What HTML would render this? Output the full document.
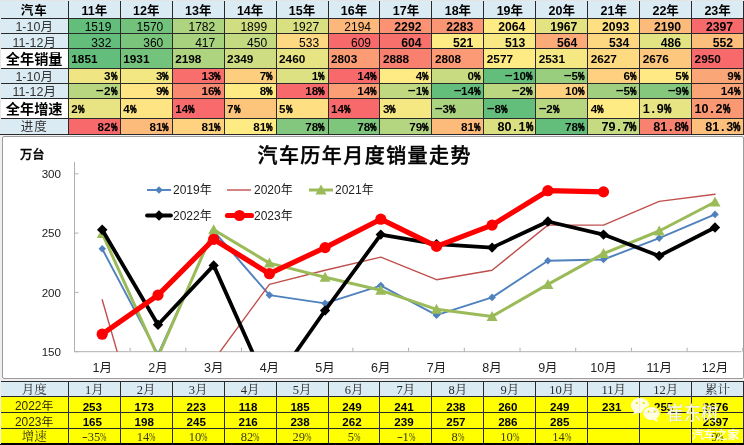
<!DOCTYPE html>
<html lang="zh"><head><meta charset="utf-8"><title>汽车历年月度销量走势</title><style>
*{margin:0;padding:0;box-sizing:border-box}
html,body{width:744px;height:445px;overflow:hidden;background:#efefef}
body{position:relative;font-family:"Liberation Sans","Noto Sans CJK SC",sans-serif;color:#000}
.c{position:absolute;white-space:nowrap;overflow:hidden}
.ln{position:absolute;background:#2a2a2a}
.p{display:inline-block;width:6.5px;transform:scaleX(.63);transform-origin:0 50%;-webkit-text-stroke:.7px #000}
.m{display:inline-block;width:7.6px;text-align:center;transform:scaleX(2.3);position:relative;top:-1.7px}
.sm{display:inline-block;width:6px;text-align:center;transform:scaleX(1.4)}
.d{display:inline-block;width:7px;text-align:center}
.P{display:inline-block;width:7px;transform:scaleX(.66);transform-origin:0 50%;-webkit-text-stroke:.7px #000}
</style></head><body>
<div class="c" style="left:0px;top:0px;width:68.3px;height:18px;line-height:23.0px;background:#dbebf3;font-weight:bold;font-size:12.5px;text-align:center;letter-spacing:1px">汽车</div>
<div class="c" style="left:0px;top:18px;width:68.3px;height:15.5px;line-height:18.5px;background:#dbebf3;font-size:12.5px;text-align:center;color:#333">1-10月</div>
<div class="c" style="left:0px;top:33.5px;width:68.3px;height:15.0px;line-height:18.0px;background:#dbebf3;font-size:12.5px;text-align:center;color:#333">11-12月</div>
<div class="c" style="left:0px;top:48.5px;width:68.3px;height:19.5px;line-height:21.5px;background:#dbebf3;font-weight:bold;font-size:14.2px;text-align:center;background:#fff">全年销量</div>
<div class="c" style="left:0px;top:68px;width:68.3px;height:15px;line-height:18.0px;background:#dbebf3;font-size:12.5px;text-align:center;color:#333">1-10月</div>
<div class="c" style="left:0px;top:83px;width:68.3px;height:15.5px;line-height:18.5px;background:#dbebf3;font-size:12.5px;text-align:center;color:#333">11-12月</div>
<div class="c" style="left:0px;top:98.5px;width:68.3px;height:19.5px;line-height:21.5px;background:#dbebf3;font-weight:bold;font-size:14.2px;text-align:center;background:#fff">全年增速</div>
<div class="c" style="left:0px;top:118px;width:68.3px;height:16.5px;line-height:19.5px;background:#dbebf3;font-size:12.5px;text-align:center;color:#333;letter-spacing:1px">进度</div>
<div class="c" style="left:68.3px;top:0px;width:52.04px;height:18px;line-height:23.0px;background:#dbebf3;font-weight:bold;font-size:12.5px;text-align:center">11年</div>
<div class="c" style="left:120.24px;top:0px;width:52.04px;height:18px;line-height:23.0px;background:#dbebf3;font-weight:bold;font-size:12.5px;text-align:center">12年</div>
<div class="c" style="left:172.18px;top:0px;width:52.04px;height:18px;line-height:23.0px;background:#dbebf3;font-weight:bold;font-size:12.5px;text-align:center">13年</div>
<div class="c" style="left:224.12px;top:0px;width:52.04px;height:18px;line-height:23.0px;background:#dbebf3;font-weight:bold;font-size:12.5px;text-align:center">14年</div>
<div class="c" style="left:276.06px;top:0px;width:52.04px;height:18px;line-height:23.0px;background:#dbebf3;font-weight:bold;font-size:12.5px;text-align:center">15年</div>
<div class="c" style="left:328.0px;top:0px;width:52.04px;height:18px;line-height:23.0px;background:#dbebf3;font-weight:bold;font-size:12.5px;text-align:center">16年</div>
<div class="c" style="left:379.94px;top:0px;width:52.04px;height:18px;line-height:23.0px;background:#dbebf3;font-weight:bold;font-size:12.5px;text-align:center">17年</div>
<div class="c" style="left:431.88px;top:0px;width:52.04px;height:18px;line-height:23.0px;background:#dbebf3;font-weight:bold;font-size:12.5px;text-align:center">18年</div>
<div class="c" style="left:483.82px;top:0px;width:52.04px;height:18px;line-height:23.0px;background:#dbebf3;font-weight:bold;font-size:12.5px;text-align:center">19年</div>
<div class="c" style="left:535.76px;top:0px;width:52.04px;height:18px;line-height:23.0px;background:#dbebf3;font-weight:bold;font-size:12.5px;text-align:center">20年</div>
<div class="c" style="left:587.7px;top:0px;width:52.04px;height:18px;line-height:23.0px;background:#dbebf3;font-weight:bold;font-size:12.5px;text-align:center">21年</div>
<div class="c" style="left:639.64px;top:0px;width:52.04px;height:18px;line-height:23.0px;background:#dbebf3;font-weight:bold;font-size:12.5px;text-align:center">22年</div>
<div class="c" style="left:691.58px;top:0px;width:52.04px;height:18px;line-height:23.0px;background:#dbebf3;font-weight:bold;font-size:12.5px;text-align:center">23年</div>
<div class="c" style="left:68.3px;top:18px;width:52.04px;height:15.5px;line-height:18.5px;background:#63be7b;font-size:12px;text-align:right;padding-right:9px;color:#000">1519</div>
<div class="c" style="left:120.24px;top:18px;width:52.04px;height:15.5px;line-height:18.5px;background:#72c27c;font-size:12px;text-align:right;padding-right:9px;color:#000">1570</div>
<div class="c" style="left:172.18px;top:18px;width:52.04px;height:15.5px;line-height:18.5px;background:#aed47f;font-size:12px;text-align:right;padding-right:9px;color:#000">1782</div>
<div class="c" style="left:224.12px;top:18px;width:52.04px;height:15.5px;line-height:18.5px;background:#d0dd81;font-size:12px;text-align:right;padding-right:9px;color:#000">1899</div>
<div class="c" style="left:276.06px;top:18px;width:52.04px;height:15.5px;line-height:18.5px;background:#d8e082;font-size:12px;text-align:right;padding-right:9px;color:#000">1927</div>
<div class="c" style="left:328.0px;top:18px;width:52.04px;height:15.5px;line-height:18.5px;background:#fcb87a;font-size:12px;text-align:right;padding-right:9px;color:#000">2194</div>
<div class="c" style="left:379.94px;top:18px;width:52.04px;height:15.5px;line-height:18.5px;background:#fa9273;font-weight:bold;font-size:12.2px;text-align:right;padding-right:10.5px">2292</div>
<div class="c" style="left:431.88px;top:18px;width:52.04px;height:15.5px;line-height:18.5px;background:#fa9674;font-weight:bold;font-size:12.2px;text-align:right;padding-right:10.5px">2283</div>
<div class="c" style="left:483.82px;top:18px;width:52.04px;height:15.5px;line-height:18.5px;background:#ffeb84;font-weight:bold;font-size:12.2px;text-align:right;padding-right:10.5px">2064</div>
<div class="c" style="left:535.76px;top:18px;width:52.04px;height:15.5px;line-height:18.5px;background:#e3e382;font-weight:bold;font-size:12.2px;text-align:right;padding-right:10.5px">1967</div>
<div class="c" style="left:587.7px;top:18px;width:52.04px;height:15.5px;line-height:18.5px;background:#fee082;font-weight:bold;font-size:12.2px;text-align:right;padding-right:10.5px">2093</div>
<div class="c" style="left:639.64px;top:18px;width:52.04px;height:15.5px;line-height:18.5px;background:#fcba7b;font-weight:bold;font-size:12.2px;text-align:right;padding-right:10.5px">2190</div>
<div class="c" style="left:691.58px;top:18px;width:52.04px;height:15.5px;line-height:18.5px;background:#f8696b;font-weight:bold;font-size:12.2px;text-align:right;padding-right:10.5px">2397</div>
<div class="c" style="left:68.3px;top:33.5px;width:52.04px;height:15.0px;line-height:18.0px;background:#63be7b;font-size:12px;text-align:right;padding-right:9px;color:#000">332</div>
<div class="c" style="left:120.24px;top:33.5px;width:52.04px;height:15.0px;line-height:18.0px;background:#7ac57c;font-size:12px;text-align:right;padding-right:9px;color:#000">360</div>
<div class="c" style="left:172.18px;top:33.5px;width:52.04px;height:15.0px;line-height:18.0px;background:#a9d27f;font-size:12px;text-align:right;padding-right:9px;color:#000">417</div>
<div class="c" style="left:224.12px;top:33.5px;width:52.04px;height:15.0px;line-height:18.0px;background:#c4da81;font-size:12px;text-align:right;padding-right:9px;color:#000">450</div>
<div class="c" style="left:276.06px;top:33.5px;width:52.04px;height:15.0px;line-height:18.0px;background:#fed981;font-size:12px;text-align:right;padding-right:9px;color:#000">533</div>
<div class="c" style="left:328.0px;top:33.5px;width:52.04px;height:15.0px;line-height:18.0px;background:#f8696b;font-size:12px;text-align:right;padding-right:9px;color:#000">609</div>
<div class="c" style="left:379.94px;top:33.5px;width:52.04px;height:15.0px;line-height:18.0px;background:#f8706c;font-weight:bold;font-size:12.2px;text-align:right;padding-right:10.5px">604</div>
<div class="c" style="left:431.88px;top:33.5px;width:52.04px;height:15.0px;line-height:18.0px;background:#ffeb84;font-weight:bold;font-size:12.2px;text-align:right;padding-right:10.5px">521</div>
<div class="c" style="left:483.82px;top:33.5px;width:52.04px;height:15.0px;line-height:18.0px;background:#f8e984;font-weight:bold;font-size:12.2px;text-align:right;padding-right:10.5px">513</div>
<div class="c" style="left:535.76px;top:33.5px;width:52.04px;height:15.0px;line-height:18.0px;background:#fcab78;font-weight:bold;font-size:12.2px;text-align:right;padding-right:10.5px">564</div>
<div class="c" style="left:587.7px;top:33.5px;width:52.04px;height:15.0px;line-height:18.0px;background:#fed880;font-weight:bold;font-size:12.2px;text-align:right;padding-right:10.5px">534</div>
<div class="c" style="left:639.64px;top:33.5px;width:52.04px;height:15.0px;line-height:18.0px;background:#e2e382;font-weight:bold;font-size:12.2px;text-align:right;padding-right:10.5px">486</div>
<div class="c" style="left:691.58px;top:33.5px;width:52.04px;height:15.0px;line-height:18.0px;background:#fdbd7b;font-weight:bold;font-size:12.2px;text-align:right;padding-right:10.5px">552</div>
<div class="c" style="left:68.3px;top:48.5px;width:52.04px;height:19.5px;line-height:21.5px;background:#63be7b;font-weight:bold;font-size:11.8px;text-align:left;padding-left:3px">1851</div>
<div class="c" style="left:120.24px;top:48.5px;width:52.04px;height:19.5px;line-height:21.5px;background:#74c37c;font-weight:bold;font-size:11.8px;text-align:left;padding-left:3px">1931</div>
<div class="c" style="left:172.18px;top:48.5px;width:52.04px;height:19.5px;line-height:21.5px;background:#aed47f;font-weight:bold;font-size:11.8px;text-align:left;padding-left:3px">2198</div>
<div class="c" style="left:224.12px;top:48.5px;width:52.04px;height:19.5px;line-height:21.5px;background:#cedd81;font-weight:bold;font-size:11.8px;text-align:left;padding-left:3px">2349</div>
<div class="c" style="left:276.06px;top:48.5px;width:52.04px;height:19.5px;line-height:21.5px;background:#e6e483;font-weight:bold;font-size:11.8px;text-align:left;padding-left:3px">2460</div>
<div class="c" style="left:328.0px;top:48.5px;width:52.04px;height:19.5px;line-height:21.5px;background:#fb9c75;font-weight:bold;font-size:11.8px;text-align:left;padding-left:3px">2803</div>
<div class="c" style="left:379.94px;top:48.5px;width:52.04px;height:19.5px;line-height:21.5px;background:#f97f6f;font-weight:bold;font-size:11.8px;text-align:left;padding-left:3px">2888</div>
<div class="c" style="left:431.88px;top:48.5px;width:52.04px;height:19.5px;line-height:21.5px;background:#fb9a75;font-weight:bold;font-size:11.8px;text-align:left;padding-left:3px">2808</div>
<div class="c" style="left:483.82px;top:48.5px;width:52.04px;height:19.5px;line-height:21.5px;background:#ffeb84;font-weight:bold;font-size:11.8px;text-align:left;padding-left:3px">2577</div>
<div class="c" style="left:535.76px;top:48.5px;width:52.04px;height:19.5px;line-height:21.5px;background:#f5e883;font-weight:bold;font-size:11.8px;text-align:left;padding-left:3px">2531</div>
<div class="c" style="left:587.7px;top:48.5px;width:52.04px;height:19.5px;line-height:21.5px;background:#feda81;font-weight:bold;font-size:11.8px;text-align:left;padding-left:3px">2627</div>
<div class="c" style="left:639.64px;top:48.5px;width:52.04px;height:19.5px;line-height:21.5px;background:#fdc87d;font-weight:bold;font-size:11.8px;text-align:left;padding-left:3px">2676</div>
<div class="c" style="left:691.58px;top:48.5px;width:52.04px;height:19.5px;line-height:21.5px;background:#f8696b;font-weight:bold;font-size:11.8px;text-align:left;padding-left:3px">2950</div>
<div class="c" style="left:68.3px;top:68px;width:52.04px;height:15px;line-height:15.8px;background:#efe683;font-weight:bold;font-size:11.7px;text-align:right;padding-right:3.3px">3<span class="p">%</span></div>
<div class="c" style="left:120.24px;top:68px;width:52.04px;height:15px;line-height:15.8px;background:#f3e783;font-weight:bold;font-size:11.7px;text-align:right;padding-right:3.3px">3<span class="p">%</span></div>
<div class="c" style="left:172.18px;top:68px;width:52.04px;height:15px;line-height:15.8px;background:#f86e6c;font-weight:bold;font-size:11.7px;text-align:right;padding-right:3.3px">13<span class="p">%</span></div>
<div class="c" style="left:224.12px;top:68px;width:52.04px;height:15px;line-height:15.8px;background:#fdce7e;font-weight:bold;font-size:11.7px;text-align:right;padding-right:3.3px">7<span class="p">%</span></div>
<div class="c" style="left:276.06px;top:68px;width:52.04px;height:15px;line-height:15.8px;background:#dee182;font-weight:bold;font-size:11.7px;text-align:right;padding-right:3.3px">1<span class="p">%</span></div>
<div class="c" style="left:328.0px;top:68px;width:52.04px;height:15px;line-height:15.8px;background:#f8696b;font-weight:bold;font-size:11.7px;text-align:right;padding-right:3.3px">14<span class="p">%</span></div>
<div class="c" style="left:379.94px;top:68px;width:52.04px;height:15px;line-height:15.8px;background:#ffeb84;font-weight:bold;font-size:11.7px;text-align:right;padding-right:3.3px">4<span class="p">%</span></div>
<div class="c" style="left:431.88px;top:68px;width:52.04px;height:15px;line-height:15.8px;background:#c9db81;font-weight:bold;font-size:11.7px;text-align:right;padding-right:3.3px">0<span class="p">%</span></div>
<div class="c" style="left:483.82px;top:68px;width:52.04px;height:15px;line-height:15.8px;background:#63be7b;font-weight:bold;font-size:11.7px;text-align:right;padding-right:3.3px"><span class="m">-</span>10<span class="p">%</span></div>
<div class="c" style="left:535.76px;top:68px;width:52.04px;height:15px;line-height:15.8px;background:#99ce7e;font-weight:bold;font-size:11.7px;text-align:right;padding-right:3.3px"><span class="m">-</span>5<span class="p">%</span></div>
<div class="c" style="left:587.7px;top:68px;width:52.04px;height:15px;line-height:15.8px;background:#fed07f;font-weight:bold;font-size:11.7px;text-align:right;padding-right:3.3px">6<span class="p">%</span></div>
<div class="c" style="left:639.64px;top:68px;width:52.04px;height:15px;line-height:15.8px;background:#ffe984;font-weight:bold;font-size:11.7px;text-align:right;padding-right:3.3px">5<span class="p">%</span></div>
<div class="c" style="left:691.58px;top:68px;width:52.04px;height:15px;line-height:15.8px;background:#fba677;font-weight:bold;font-size:11.7px;text-align:right;padding-right:3.3px">9<span class="p">%</span></div>
<div class="c" style="left:68.3px;top:83px;width:52.04px;height:15.5px;line-height:16.3px;background:#b8d680;font-weight:bold;font-size:11.7px;text-align:right;padding-right:3.3px"><span class="m">-</span>2<span class="p">%</span></div>
<div class="c" style="left:120.24px;top:83px;width:52.04px;height:15.5px;line-height:16.3px;background:#ffe583;font-weight:bold;font-size:11.7px;text-align:right;padding-right:3.3px">9<span class="p">%</span></div>
<div class="c" style="left:172.18px;top:83px;width:52.04px;height:15.5px;line-height:16.3px;background:#fa8971;font-weight:bold;font-size:11.7px;text-align:right;padding-right:3.3px">16<span class="p">%</span></div>
<div class="c" style="left:224.12px;top:83px;width:52.04px;height:15.5px;line-height:16.3px;background:#ffeb84;font-weight:bold;font-size:11.7px;text-align:right;padding-right:3.3px">8<span class="p">%</span></div>
<div class="c" style="left:276.06px;top:83px;width:52.04px;height:15.5px;line-height:16.3px;background:#f8696b;font-weight:bold;font-size:11.7px;text-align:right;padding-right:3.3px">18<span class="p">%</span></div>
<div class="c" style="left:328.0px;top:83px;width:52.04px;height:15.5px;line-height:16.3px;background:#fb9d75;font-weight:bold;font-size:11.7px;text-align:right;padding-right:3.3px">14<span class="p">%</span></div>
<div class="c" style="left:379.94px;top:83px;width:52.04px;height:15.5px;line-height:16.3px;background:#c0d980;font-weight:bold;font-size:11.7px;text-align:right;padding-right:3.3px"><span class="m">-</span>1<span class="p">%</span></div>
<div class="c" style="left:431.88px;top:83px;width:52.04px;height:15.5px;line-height:16.3px;background:#63be7b;font-weight:bold;font-size:11.7px;text-align:right;padding-right:3.3px"><span class="m">-</span>14<span class="p">%</span></div>
<div class="c" style="left:483.82px;top:83px;width:52.04px;height:15.5px;line-height:16.3px;background:#bbd780;font-weight:bold;font-size:11.7px;text-align:right;padding-right:3.3px"><span class="m">-</span>2<span class="p">%</span></div>
<div class="c" style="left:535.76px;top:83px;width:52.04px;height:15.5px;line-height:16.3px;background:#fed27f;font-weight:bold;font-size:11.7px;text-align:right;padding-right:3.3px">10<span class="p">%</span></div>
<div class="c" style="left:587.7px;top:83px;width:52.04px;height:15.5px;line-height:16.3px;background:#a0d07f;font-weight:bold;font-size:11.7px;text-align:right;padding-right:3.3px"><span class="m">-</span>5<span class="p">%</span></div>
<div class="c" style="left:639.64px;top:83px;width:52.04px;height:15.5px;line-height:16.3px;background:#85c87d;font-weight:bold;font-size:11.7px;text-align:right;padding-right:3.3px"><span class="m">-</span>9<span class="p">%</span></div>
<div class="c" style="left:691.58px;top:83px;width:52.04px;height:15.5px;line-height:16.3px;background:#fba577;font-weight:bold;font-size:11.7px;text-align:right;padding-right:3.3px">14<span class="p">%</span></div>
<div class="c" style="left:68.3px;top:98.5px;width:52.04px;height:19.5px;line-height:20.3px;background:#e8e483;font-weight:bold;font-size:11.7px;text-align:left;padding-left:3px">2<span class="p">%</span></div>
<div class="c" style="left:120.24px;top:98.5px;width:52.04px;height:19.5px;line-height:20.3px;background:#ffe483;font-weight:bold;font-size:11.7px;text-align:left;padding-left:3px">4<span class="p">%</span></div>
<div class="c" style="left:172.18px;top:98.5px;width:52.04px;height:19.5px;line-height:20.3px;background:#f86a6b;font-weight:bold;font-size:11.7px;text-align:left;padding-left:3px">14<span class="p">%</span></div>
<div class="c" style="left:224.12px;top:98.5px;width:52.04px;height:19.5px;line-height:20.3px;background:#fdc47c;font-weight:bold;font-size:11.7px;text-align:left;padding-left:3px">7<span class="p">%</span></div>
<div class="c" style="left:276.06px;top:98.5px;width:52.04px;height:19.5px;line-height:20.3px;background:#fedf82;font-weight:bold;font-size:11.7px;text-align:left;padding-left:3px">5<span class="p">%</span></div>
<div class="c" style="left:328.0px;top:98.5px;width:52.04px;height:19.5px;line-height:20.3px;background:#f8696b;font-weight:bold;font-size:11.7px;text-align:left;padding-left:3px">14<span class="p">%</span></div>
<div class="c" style="left:379.94px;top:98.5px;width:52.04px;height:19.5px;line-height:20.3px;background:#f5e883;font-weight:bold;font-size:11.7px;text-align:left;padding-left:3px">3<span class="p">%</span></div>
<div class="c" style="left:431.88px;top:98.5px;width:52.04px;height:19.5px;line-height:20.3px;background:#aad27f;font-weight:bold;font-size:11.7px;text-align:left;padding-left:3px"><span class="m">-</span>3<span class="p">%</span></div>
<div class="c" style="left:483.82px;top:98.5px;width:52.04px;height:19.5px;line-height:20.3px;background:#63be7b;font-weight:bold;font-size:11.7px;text-align:left;padding-left:3px"><span class="m">-</span>8<span class="p">%</span></div>
<div class="c" style="left:535.76px;top:98.5px;width:52.04px;height:19.5px;line-height:20.3px;background:#b7d680;font-weight:bold;font-size:11.7px;text-align:left;padding-left:3px"><span class="m">-</span>2<span class="p">%</span></div>
<div class="c" style="left:587.7px;top:98.5px;width:52.04px;height:19.5px;line-height:20.3px;background:#ffeb84;font-weight:bold;font-size:11.7px;text-align:left;padding-left:3px">4<span class="p">%</span></div>
<div class="c" style="left:639.64px;top:98.5px;width:52.04px;height:19.5px;line-height:20.3px;background:#e6e483;font-weight:bold;font-size:11.7px;text-align:left;padding-left:3px"><span style="font-size:12.6px">1<span class="d">.</span>9<span class="P">%</span></span></div>
<div class="c" style="left:691.58px;top:98.5px;width:52.04px;height:19.5px;line-height:20.3px;background:#fb9874;font-weight:bold;font-size:11.7px;text-align:left;padding-left:3px"><span style="font-size:12.6px">10<span class="d">.</span>2<span class="P">%</span></span></div>
<div class="c" style="left:68.3px;top:118px;width:52.04px;height:16.5px;line-height:17.3px;background:#f8696b;font-weight:bold;font-size:11.7px;text-align:right;padding-right:3.3px">82<span class="p">%</span></div>
<div class="c" style="left:120.24px;top:118px;width:52.04px;height:16.5px;line-height:17.3px;background:#fcba7b;font-weight:bold;font-size:11.7px;text-align:right;padding-right:3.3px">81<span class="p">%</span></div>
<div class="c" style="left:172.18px;top:118px;width:52.04px;height:16.5px;line-height:17.3px;background:#fed27f;font-weight:bold;font-size:11.7px;text-align:right;padding-right:3.3px">81<span class="p">%</span></div>
<div class="c" style="left:224.12px;top:118px;width:52.04px;height:16.5px;line-height:17.3px;background:#ffeb84;font-weight:bold;font-size:11.7px;text-align:right;padding-right:3.3px">81<span class="p">%</span></div>
<div class="c" style="left:276.06px;top:118px;width:52.04px;height:16.5px;line-height:17.3px;background:#82c77d;font-weight:bold;font-size:11.7px;text-align:right;padding-right:3.3px">78<span class="p">%</span></div>
<div class="c" style="left:328.0px;top:118px;width:52.04px;height:16.5px;line-height:17.3px;background:#7fc67d;font-weight:bold;font-size:11.7px;text-align:right;padding-right:3.3px">78<span class="p">%</span></div>
<div class="c" style="left:379.94px;top:118px;width:52.04px;height:16.5px;line-height:17.3px;background:#b5d680;font-weight:bold;font-size:11.7px;text-align:right;padding-right:3.3px">79<span class="p">%</span></div>
<div class="c" style="left:431.88px;top:118px;width:52.04px;height:16.5px;line-height:17.3px;background:#fcba7b;font-weight:bold;font-size:11.7px;text-align:right;padding-right:3.3px">81<span class="p">%</span></div>
<div class="c" style="left:483.82px;top:118px;width:52.04px;height:16.5px;line-height:17.3px;background:#dae082;font-weight:bold;font-size:11.7px;text-align:right;padding-right:3.3px"><span style="font-size:12.6px">80<span class="d">.</span>1<span class="P">%</span></span></div>
<div class="c" style="left:535.76px;top:118px;width:52.04px;height:16.5px;line-height:17.3px;background:#63be7b;font-weight:bold;font-size:11.7px;text-align:right;padding-right:3.3px">78<span class="p">%</span></div>
<div class="c" style="left:587.7px;top:118px;width:52.04px;height:16.5px;line-height:17.3px;background:#c5da81;font-weight:bold;font-size:11.7px;text-align:right;padding-right:3.3px"><span style="font-size:12.6px">79<span class="d">.</span>7<span class="P">%</span></span></div>
<div class="c" style="left:639.64px;top:118px;width:52.04px;height:16.5px;line-height:17.3px;background:#f98170;font-weight:bold;font-size:11.7px;text-align:right;padding-right:3.3px"><span style="font-size:12.6px">81<span class="d">.</span>8<span class="P">%</span></span></div>
<div class="c" style="left:691.58px;top:118px;width:52.04px;height:16.5px;line-height:17.3px;background:#fdbf7c;font-weight:bold;font-size:11.7px;text-align:right;padding-right:3.3px"><span style="font-size:12.6px">81<span class="d">.</span>3<span class="P">%</span></span></div>
<div class="ln" style="left:67.8px;top:0;width:1px;height:134.5px"></div>
<div class="ln" style="left:119.74px;top:0;width:1px;height:134.5px"></div>
<div class="ln" style="left:171.68px;top:0;width:1px;height:134.5px"></div>
<div class="ln" style="left:223.62px;top:0;width:1px;height:134.5px"></div>
<div class="ln" style="left:275.56px;top:0;width:1px;height:134.5px"></div>
<div class="ln" style="left:327.5px;top:0;width:1px;height:134.5px"></div>
<div class="ln" style="left:379.44px;top:0;width:1px;height:134.5px"></div>
<div class="ln" style="left:431.38px;top:0;width:1px;height:134.5px"></div>
<div class="ln" style="left:483.32px;top:0;width:1px;height:134.5px"></div>
<div class="ln" style="left:535.26px;top:0;width:1px;height:134.5px"></div>
<div class="ln" style="left:587.2px;top:0;width:1px;height:134.5px"></div>
<div class="ln" style="left:639.14px;top:0;width:1px;height:134.5px"></div>
<div class="ln" style="left:691.08px;top:0;width:1px;height:134.5px"></div>
<div class="ln" style="left:743.02px;top:0;width:1px;height:134.5px"></div>
<div class="ln" style="left:0;top:17.5px;width:744px;height:1px"></div>
<div class="ln" style="left:0;top:33.0px;width:744px;height:1px"></div>
<div class="ln" style="left:0;top:48.0px;width:744px;height:1px"></div>
<div class="ln" style="left:0;top:67.5px;width:744px;height:1px"></div>
<div class="ln" style="left:0;top:82.5px;width:744px;height:1px"></div>
<div class="ln" style="left:0;top:98.0px;width:744px;height:1px"></div>
<div class="ln" style="left:0;top:117.5px;width:744px;height:1px"></div>
<div class="ln" style="left:0;top:134.0px;width:744px;height:1px"></div>
<div class="ln" style="left:0;top:0;width:744px;height:1px;background:#e4e4e4"></div>
<div class="ln" style="left:0;top:0;width:1px;height:134px;background:#e4e8ea"></div>
<div style="position:absolute;left:2px;top:136px;width:741.5px;height:242.5px;background:#fff;border:1px solid #9c9c9c;border-radius:2px"></div>
<div class="c" style="left:0px;top:381px;width:68.3px;height:15.5px;line-height:18.5px;background:#dbebf3;font-family:'Liberation Serif','Noto Serif CJK SC',serif;font-size:12.5px;text-align:center;color:#2a2a2a">月度</div>
<div class="c" style="left:68.3px;top:381px;width:52.04px;height:15.5px;line-height:18.5px;background:#dbebf3;font-family:'Liberation Serif','Noto Serif CJK SC',serif;font-size:12.5px;text-align:center;color:#2a2a2a">1月</div>
<div class="c" style="left:120.24px;top:381px;width:52.04px;height:15.5px;line-height:18.5px;background:#dbebf3;font-family:'Liberation Serif','Noto Serif CJK SC',serif;font-size:12.5px;text-align:center;color:#2a2a2a">2月</div>
<div class="c" style="left:172.18px;top:381px;width:52.04px;height:15.5px;line-height:18.5px;background:#dbebf3;font-family:'Liberation Serif','Noto Serif CJK SC',serif;font-size:12.5px;text-align:center;color:#2a2a2a">3月</div>
<div class="c" style="left:224.12px;top:381px;width:52.04px;height:15.5px;line-height:18.5px;background:#dbebf3;font-family:'Liberation Serif','Noto Serif CJK SC',serif;font-size:12.5px;text-align:center;color:#2a2a2a">4月</div>
<div class="c" style="left:276.06px;top:381px;width:52.04px;height:15.5px;line-height:18.5px;background:#dbebf3;font-family:'Liberation Serif','Noto Serif CJK SC',serif;font-size:12.5px;text-align:center;color:#2a2a2a">5月</div>
<div class="c" style="left:328.0px;top:381px;width:52.04px;height:15.5px;line-height:18.5px;background:#dbebf3;font-family:'Liberation Serif','Noto Serif CJK SC',serif;font-size:12.5px;text-align:center;color:#2a2a2a">6月</div>
<div class="c" style="left:379.94px;top:381px;width:52.04px;height:15.5px;line-height:18.5px;background:#dbebf3;font-family:'Liberation Serif','Noto Serif CJK SC',serif;font-size:12.5px;text-align:center;color:#2a2a2a">7月</div>
<div class="c" style="left:431.88px;top:381px;width:52.04px;height:15.5px;line-height:18.5px;background:#dbebf3;font-family:'Liberation Serif','Noto Serif CJK SC',serif;font-size:12.5px;text-align:center;color:#2a2a2a">8月</div>
<div class="c" style="left:483.82px;top:381px;width:52.04px;height:15.5px;line-height:18.5px;background:#dbebf3;font-family:'Liberation Serif','Noto Serif CJK SC',serif;font-size:12.5px;text-align:center;color:#2a2a2a">9月</div>
<div class="c" style="left:535.76px;top:381px;width:52.04px;height:15.5px;line-height:18.5px;background:#dbebf3;font-family:'Liberation Serif','Noto Serif CJK SC',serif;font-size:12.5px;text-align:center;color:#2a2a2a">10月</div>
<div class="c" style="left:587.7px;top:381px;width:52.04px;height:15.5px;line-height:18.5px;background:#dbebf3;font-family:'Liberation Serif','Noto Serif CJK SC',serif;font-size:12.5px;text-align:center;color:#2a2a2a">11月</div>
<div class="c" style="left:639.64px;top:381px;width:52.04px;height:15.5px;line-height:18.5px;background:#dbebf3;font-family:'Liberation Serif','Noto Serif CJK SC',serif;font-size:12.5px;text-align:center;color:#2a2a2a">12月</div>
<div class="c" style="left:691.58px;top:381px;width:52.04px;height:15.5px;line-height:18.5px;background:#dbebf3;font-family:'Liberation Serif','Noto Serif CJK SC',serif;font-size:12.5px;text-align:center;color:#2a2a2a">累计</div>
<div class="c" style="left:0px;top:396.5px;width:68.3px;height:16.0px;line-height:19.0px;background:#ffff00;font-size:11.9px;text-align:center;color:#2a2a08">2022年</div>
<div class="c" style="left:68.3px;top:396.5px;width:52.04px;height:16.0px;line-height:19.0px;background:#ffff00;font-weight:bold;font-size:11.6px;text-align:center;padding-right:4px">253</div>
<div class="c" style="left:120.24px;top:396.5px;width:52.04px;height:16.0px;line-height:19.0px;background:#ffff00;font-weight:bold;font-size:11.6px;text-align:center;padding-right:4px">173</div>
<div class="c" style="left:172.18px;top:396.5px;width:52.04px;height:16.0px;line-height:19.0px;background:#ffff00;font-weight:bold;font-size:11.6px;text-align:center;padding-right:4px">223</div>
<div class="c" style="left:224.12px;top:396.5px;width:52.04px;height:16.0px;line-height:19.0px;background:#ffff00;font-weight:bold;font-size:11.6px;text-align:center;padding-right:4px">118</div>
<div class="c" style="left:276.06px;top:396.5px;width:52.04px;height:16.0px;line-height:19.0px;background:#ffff00;font-weight:bold;font-size:11.6px;text-align:center;padding-right:4px">185</div>
<div class="c" style="left:328.0px;top:396.5px;width:52.04px;height:16.0px;line-height:19.0px;background:#ffff00;font-weight:bold;font-size:11.6px;text-align:center;padding-right:4px">249</div>
<div class="c" style="left:379.94px;top:396.5px;width:52.04px;height:16.0px;line-height:19.0px;background:#ffff00;font-weight:bold;font-size:11.6px;text-align:center;padding-right:4px">241</div>
<div class="c" style="left:431.88px;top:396.5px;width:52.04px;height:16.0px;line-height:19.0px;background:#ffff00;font-weight:bold;font-size:11.6px;text-align:center;padding-right:4px">238</div>
<div class="c" style="left:483.82px;top:396.5px;width:52.04px;height:16.0px;line-height:19.0px;background:#ffff00;font-weight:bold;font-size:11.6px;text-align:center;padding-right:4px">260</div>
<div class="c" style="left:535.76px;top:396.5px;width:52.04px;height:16.0px;line-height:19.0px;background:#ffff00;font-weight:bold;font-size:11.6px;text-align:center;padding-right:4px">249</div>
<div class="c" style="left:587.7px;top:396.5px;width:52.04px;height:16.0px;line-height:19.0px;background:#ffff00;font-weight:bold;font-size:11.6px;text-align:center;padding-right:4px">231</div>
<div class="c" style="left:639.64px;top:396.5px;width:52.04px;height:16.0px;line-height:19.0px;background:#ffff00;font-weight:bold;font-size:11.6px;text-align:center;padding-right:4px">255</div>
<div class="c" style="left:691.58px;top:396.5px;width:52.04px;height:16.0px;line-height:19.0px;background:#ffff00;font-weight:bold;font-size:11.6px;text-align:center;padding-right:4px">2676</div>
<div class="c" style="left:0px;top:412.5px;width:68.3px;height:15.5px;line-height:18.5px;background:#ffff00;font-size:11.9px;text-align:center;color:#2a2a08">2023年</div>
<div class="c" style="left:68.3px;top:412.5px;width:52.04px;height:15.5px;line-height:18.5px;background:#ffff00;font-weight:bold;font-size:11.6px;text-align:center;padding-right:4px">165</div>
<div class="c" style="left:120.24px;top:412.5px;width:52.04px;height:15.5px;line-height:18.5px;background:#ffff00;font-weight:bold;font-size:11.6px;text-align:center;padding-right:4px">198</div>
<div class="c" style="left:172.18px;top:412.5px;width:52.04px;height:15.5px;line-height:18.5px;background:#ffff00;font-weight:bold;font-size:11.6px;text-align:center;padding-right:4px">245</div>
<div class="c" style="left:224.12px;top:412.5px;width:52.04px;height:15.5px;line-height:18.5px;background:#ffff00;font-weight:bold;font-size:11.6px;text-align:center;padding-right:4px">216</div>
<div class="c" style="left:276.06px;top:412.5px;width:52.04px;height:15.5px;line-height:18.5px;background:#ffff00;font-weight:bold;font-size:11.6px;text-align:center;padding-right:4px">238</div>
<div class="c" style="left:328.0px;top:412.5px;width:52.04px;height:15.5px;line-height:18.5px;background:#ffff00;font-weight:bold;font-size:11.6px;text-align:center;padding-right:4px">262</div>
<div class="c" style="left:379.94px;top:412.5px;width:52.04px;height:15.5px;line-height:18.5px;background:#ffff00;font-weight:bold;font-size:11.6px;text-align:center;padding-right:4px">239</div>
<div class="c" style="left:431.88px;top:412.5px;width:52.04px;height:15.5px;line-height:18.5px;background:#ffff00;font-weight:bold;font-size:11.6px;text-align:center;padding-right:4px">257</div>
<div class="c" style="left:483.82px;top:412.5px;width:52.04px;height:15.5px;line-height:18.5px;background:#ffff00;font-weight:bold;font-size:11.6px;text-align:center;padding-right:4px">286</div>
<div class="c" style="left:535.76px;top:412.5px;width:52.04px;height:15.5px;line-height:18.5px;background:#ffff00;font-weight:bold;font-size:11.6px;text-align:center;padding-right:4px">285</div>
<div class="c" style="left:587.7px;top:412.5px;width:52.04px;height:15.5px;line-height:18.5px;background:#ffff00;font-weight:bold;font-size:11.6px;text-align:center;padding-right:4px"></div>
<div class="c" style="left:639.64px;top:412.5px;width:52.04px;height:15.5px;line-height:18.5px;background:#ffff00;font-weight:bold;font-size:11.6px;text-align:center;padding-right:4px"></div>
<div class="c" style="left:691.58px;top:412.5px;width:52.04px;height:15.5px;line-height:18.5px;background:#ffff00;font-weight:bold;font-size:11.6px;text-align:center;padding-right:4px">2397</div>
<div class="c" style="left:0px;top:428px;width:68.3px;height:15.5px;line-height:18.5px;background:#ffff00;font-family:'Liberation Serif','Noto Serif CJK SC',serif;font-size:12.5px;text-align:center;color:#3a3a10">增速</div>
<div class="c" style="left:68.3px;top:428px;width:52.04px;height:15.5px;line-height:18.5px;background:#ffff00;font-family:'Liberation Serif','Noto Serif CJK SC',serif;font-size:12.5px;text-align:center;color:#3a3a10"><span class="sm">-</span>35<span class="p" style="width:6.5px;transform:scaleX(.62);-webkit-text-stroke:0">%</span></div>
<div class="c" style="left:120.24px;top:428px;width:52.04px;height:15.5px;line-height:18.5px;background:#ffff00;font-family:'Liberation Serif','Noto Serif CJK SC',serif;font-size:12.5px;text-align:center;color:#3a3a10">14<span class="p" style="width:6.5px;transform:scaleX(.62);-webkit-text-stroke:0">%</span></div>
<div class="c" style="left:172.18px;top:428px;width:52.04px;height:15.5px;line-height:18.5px;background:#ffff00;font-family:'Liberation Serif','Noto Serif CJK SC',serif;font-size:12.5px;text-align:center;color:#3a3a10">10<span class="p" style="width:6.5px;transform:scaleX(.62);-webkit-text-stroke:0">%</span></div>
<div class="c" style="left:224.12px;top:428px;width:52.04px;height:15.5px;line-height:18.5px;background:#ffff00;font-family:'Liberation Serif','Noto Serif CJK SC',serif;font-size:12.5px;text-align:center;color:#3a3a10">82<span class="p" style="width:6.5px;transform:scaleX(.62);-webkit-text-stroke:0">%</span></div>
<div class="c" style="left:276.06px;top:428px;width:52.04px;height:15.5px;line-height:18.5px;background:#ffff00;font-family:'Liberation Serif','Noto Serif CJK SC',serif;font-size:12.5px;text-align:center;color:#3a3a10">29<span class="p" style="width:6.5px;transform:scaleX(.62);-webkit-text-stroke:0">%</span></div>
<div class="c" style="left:328.0px;top:428px;width:52.04px;height:15.5px;line-height:18.5px;background:#ffff00;font-family:'Liberation Serif','Noto Serif CJK SC',serif;font-size:12.5px;text-align:center;color:#3a3a10">5<span class="p" style="width:6.5px;transform:scaleX(.62);-webkit-text-stroke:0">%</span></div>
<div class="c" style="left:379.94px;top:428px;width:52.04px;height:15.5px;line-height:18.5px;background:#ffff00;font-family:'Liberation Serif','Noto Serif CJK SC',serif;font-size:12.5px;text-align:center;color:#3a3a10"><span class="sm">-</span>1<span class="p" style="width:6.5px;transform:scaleX(.62);-webkit-text-stroke:0">%</span></div>
<div class="c" style="left:431.88px;top:428px;width:52.04px;height:15.5px;line-height:18.5px;background:#ffff00;font-family:'Liberation Serif','Noto Serif CJK SC',serif;font-size:12.5px;text-align:center;color:#3a3a10">8<span class="p" style="width:6.5px;transform:scaleX(.62);-webkit-text-stroke:0">%</span></div>
<div class="c" style="left:483.82px;top:428px;width:52.04px;height:15.5px;line-height:18.5px;background:#ffff00;font-family:'Liberation Serif','Noto Serif CJK SC',serif;font-size:12.5px;text-align:center;color:#3a3a10">10<span class="p" style="width:6.5px;transform:scaleX(.62);-webkit-text-stroke:0">%</span></div>
<div class="c" style="left:535.76px;top:428px;width:52.04px;height:15.5px;line-height:18.5px;background:#ffff00;font-family:'Liberation Serif','Noto Serif CJK SC',serif;font-size:12.5px;text-align:center;color:#3a3a10">14<span class="p" style="width:6.5px;transform:scaleX(.62);-webkit-text-stroke:0">%</span></div>
<div class="c" style="left:587.7px;top:428px;width:52.04px;height:15.5px;line-height:18.5px;background:#ffff00;font-family:'Liberation Serif','Noto Serif CJK SC',serif;font-size:12.5px;text-align:center;color:#3a3a10"></div>
<div class="c" style="left:639.64px;top:428px;width:52.04px;height:15.5px;line-height:18.5px;background:#ffff00;font-family:'Liberation Serif','Noto Serif CJK SC',serif;font-size:12.5px;text-align:center;color:#3a3a10"></div>
<div class="c" style="left:691.58px;top:428px;width:52.04px;height:15.5px;line-height:18.5px;background:#ffff00;font-family:'Liberation Serif','Noto Serif CJK SC',serif;font-size:12.5px;text-align:center;color:#3a3a10">9<span class="p" style="width:6.5px;transform:scaleX(.62);-webkit-text-stroke:0">%</span></div>
<div class="ln" style="left:67.8px;top:381px;width:1px;height:64px"></div>
<div class="ln" style="left:119.74px;top:381px;width:1px;height:64px"></div>
<div class="ln" style="left:171.68px;top:381px;width:1px;height:64px"></div>
<div class="ln" style="left:223.62px;top:381px;width:1px;height:64px"></div>
<div class="ln" style="left:275.56px;top:381px;width:1px;height:64px"></div>
<div class="ln" style="left:327.5px;top:381px;width:1px;height:64px"></div>
<div class="ln" style="left:379.44px;top:381px;width:1px;height:64px"></div>
<div class="ln" style="left:431.38px;top:381px;width:1px;height:64px"></div>
<div class="ln" style="left:483.32px;top:381px;width:1px;height:64px"></div>
<div class="ln" style="left:535.26px;top:381px;width:1px;height:64px"></div>
<div class="ln" style="left:587.2px;top:381px;width:1px;height:64px"></div>
<div class="ln" style="left:639.14px;top:381px;width:1px;height:64px"></div>
<div class="ln" style="left:691.08px;top:381px;width:1px;height:64px"></div>
<div class="ln" style="left:743.02px;top:381px;width:1px;height:64px"></div>
<div class="ln" style="left:0;top:380.5px;width:744px;height:1px"></div>
<div class="ln" style="left:0;top:396.0px;width:744px;height:1px"></div>
<div class="ln" style="left:0;top:412.0px;width:744px;height:1px"></div>
<div class="ln" style="left:0;top:427.5px;width:744px;height:1px"></div>
<div class="ln" style="left:0;top:443.0px;width:744px;height:1px"></div>
<div class="ln" style="left:0;top:443.2px;width:744px;height:2px;background:#000"></div>
<div class="ln" style="left:0;top:380.5px;width:1px;height:63px;background:#eee"></div>
<svg width="744" height="445" viewBox="0 0 744 445" style="position:absolute;left:0;top:0">
<defs><clipPath id="pa"><rect x="74" y="160" width="669" height="191.7"/></clipPath></defs>
<g stroke="#b0b0b0" stroke-width="1" fill="none">
<path d="M74.5 162V351.7H741.5"/>
<path d="M74.5 173.8h4"/>
<path d="M74.5 233.1h4"/>
<path d="M74.5 292.4h4"/>
<path d="M74.5 351.7h4"/>
<path d="M130.1 351.7v-4"/>
<path d="M185.8 351.7v-4"/>
<path d="M241.5 351.7v-4"/>
<path d="M297.2 351.7v-4"/>
<path d="M352.9 351.7v-4"/>
<path d="M408.6 351.7v-4"/>
<path d="M464.3 351.7v-4"/>
<path d="M520.0 351.7v-4"/>
<path d="M575.7 351.7v-4"/>
<path d="M631.4 351.7v-4"/>
<path d="M687.1 351.7v-4"/>
<path d="M742.8 351.7v-4"/>
</g>
<g clip-path="url(#pa)" fill="none" stroke-linejoin="round" stroke-linecap="round">
<polyline points="102.2,248.8 158.0,354.4 213.7,231.0 269.4,295.1 325.1,303.4 380.8,285.6 436.5,315.2 492.1,297.4 547.9,260.7 603.5,259.5 659.2,238.1 715.0,214.4" stroke="#4f81bd" stroke-width="1.9"/>
<path d="M102.2 245.0L106.0 248.8L102.2 252.6L98.5 248.8Z" fill="#4f81bd" stroke="none"/>
<path d="M158.0 350.6L161.8 354.4L158.0 358.2L154.2 354.4Z" fill="#4f81bd" stroke="none"/>
<path d="M213.7 227.2L217.5 231.0L213.7 234.8L209.8 231.0Z" fill="#4f81bd" stroke="none"/>
<path d="M269.4 291.3L273.2 295.1L269.4 298.9L265.6 295.1Z" fill="#4f81bd" stroke="none"/>
<path d="M325.1 299.6L328.9 303.4L325.1 307.2L321.2 303.4Z" fill="#4f81bd" stroke="none"/>
<path d="M380.8 281.8L384.6 285.6L380.8 289.4L376.9 285.6Z" fill="#4f81bd" stroke="none"/>
<path d="M436.5 311.4L440.3 315.2L436.5 319.0L432.7 315.2Z" fill="#4f81bd" stroke="none"/>
<path d="M492.1 293.6L495.9 297.4L492.1 301.2L488.3 297.4Z" fill="#4f81bd" stroke="none"/>
<path d="M547.9 256.9L551.6 260.7L547.9 264.5L544.1 260.7Z" fill="#4f81bd" stroke="none"/>
<path d="M603.5 255.7L607.3 259.5L603.5 263.3L599.8 259.5Z" fill="#4f81bd" stroke="none"/>
<path d="M659.2 234.3L663.0 238.1L659.2 241.9L655.5 238.1Z" fill="#4f81bd" stroke="none"/>
<path d="M715.0 210.6L718.8 214.4L715.0 218.2L711.2 214.4Z" fill="#4f81bd" stroke="none"/>
<polyline points="102.2,299.8 158.0,493.1 213.7,360.3 269.4,284.4 325.1,270.2 380.8,257.1 436.5,279.7 492.1,270.2 547.9,225.1 603.5,225.1 659.2,201.4 715.0,194.3" stroke="#c0504d" stroke-width="1.4"/>
<polyline points="102.2,233.4 158.0,356.7 213.7,229.8 269.4,263.1 325.1,277.3 380.8,290.3 436.5,309.3 492.1,316.4 547.9,284.4 603.5,253.6 659.2,231.0 715.0,202.0" stroke="#9bbb59" stroke-width="3"/>
<path d="M102.2 227.9L107.8 237.9L96.8 237.9Z" fill="#9bbb59" stroke="none"/>
<path d="M158.0 351.2L163.5 361.2L152.5 361.2Z" fill="#9bbb59" stroke="none"/>
<path d="M213.7 224.3L219.2 234.3L208.2 234.3Z" fill="#9bbb59" stroke="none"/>
<path d="M269.4 257.6L274.9 267.6L263.9 267.6Z" fill="#9bbb59" stroke="none"/>
<path d="M325.1 271.8L330.6 281.8L319.6 281.8Z" fill="#9bbb59" stroke="none"/>
<path d="M380.8 284.8L386.2 294.8L375.2 294.8Z" fill="#9bbb59" stroke="none"/>
<path d="M436.5 303.8L442.0 313.8L431.0 313.8Z" fill="#9bbb59" stroke="none"/>
<path d="M492.1 310.9L497.6 320.9L486.6 320.9Z" fill="#9bbb59" stroke="none"/>
<path d="M547.9 278.9L553.4 288.9L542.4 288.9Z" fill="#9bbb59" stroke="none"/>
<path d="M603.5 248.1L609.0 258.1L598.0 258.1Z" fill="#9bbb59" stroke="none"/>
<path d="M659.2 225.5L664.8 235.5L653.8 235.5Z" fill="#9bbb59" stroke="none"/>
<path d="M715.0 196.5L720.5 206.5L709.5 206.5Z" fill="#9bbb59" stroke="none"/>
<polyline points="102.2,229.8 158.0,324.7 213.7,265.4 269.4,390.0 325.1,310.5 380.8,234.6 436.5,244.1 492.1,247.6 547.9,221.5 603.5,234.6 659.2,255.9 715.0,227.5" stroke="#000" stroke-width="3.8"/>
<path d="M102.2 224.6L107.5 229.8L102.2 235.0L97.0 229.8Z" fill="#000" stroke="none"/>
<path d="M158.0 319.5L163.2 324.7L158.0 329.9L152.8 324.7Z" fill="#000" stroke="none"/>
<path d="M213.7 260.2L218.8 265.4L213.7 270.6L208.5 265.4Z" fill="#000" stroke="none"/>
<path d="M269.4 384.8L274.6 390.0L269.4 395.2L264.2 390.0Z" fill="#000" stroke="none"/>
<path d="M325.1 305.3L330.2 310.5L325.1 315.7L319.9 310.5Z" fill="#000" stroke="none"/>
<path d="M380.8 229.4L385.9 234.6L380.8 239.8L375.6 234.6Z" fill="#000" stroke="none"/>
<path d="M436.5 238.9L441.7 244.1L436.5 249.3L431.3 244.1Z" fill="#000" stroke="none"/>
<path d="M492.1 242.4L497.3 247.6L492.1 252.8L486.9 247.6Z" fill="#000" stroke="none"/>
<path d="M547.9 216.3L553.1 221.5L547.9 226.7L542.6 221.5Z" fill="#000" stroke="none"/>
<path d="M603.5 229.4L608.8 234.6L603.5 239.8L598.3 234.6Z" fill="#000" stroke="none"/>
<path d="M659.2 250.7L664.5 255.9L659.2 261.1L654.0 255.9Z" fill="#000" stroke="none"/>
<path d="M715.0 222.3L720.2 227.5L715.0 232.7L709.8 227.5Z" fill="#000" stroke="none"/>
<polyline points="102.2,334.2 158.0,295.1 213.7,239.3 269.4,273.7 325.1,247.6 380.8,219.2 436.5,246.4 492.1,225.1 547.9,190.7 603.5,191.9" stroke="#ff0000" stroke-width="5.2"/>
<circle cx="102.2" cy="334.2" r="5.6" fill="#ff0000" stroke="none"/>
<circle cx="158.0" cy="295.1" r="5.6" fill="#ff0000" stroke="none"/>
<circle cx="213.7" cy="239.3" r="5.6" fill="#ff0000" stroke="none"/>
<circle cx="269.4" cy="273.7" r="5.6" fill="#ff0000" stroke="none"/>
<circle cx="325.1" cy="247.6" r="5.6" fill="#ff0000" stroke="none"/>
<circle cx="380.8" cy="219.2" r="5.6" fill="#ff0000" stroke="none"/>
<circle cx="436.5" cy="246.4" r="5.6" fill="#ff0000" stroke="none"/>
<circle cx="492.1" cy="225.1" r="5.6" fill="#ff0000" stroke="none"/>
<circle cx="547.9" cy="190.7" r="5.6" fill="#ff0000" stroke="none"/>
<circle cx="603.5" cy="191.9" r="5.6" fill="#ff0000" stroke="none"/>
</g>
<path d="M147 190h24" stroke="#4f81bd" stroke-width="1.9"/><path d="M159.0 186.2L162.8 190.0L159.0 193.8L155.2 190.0Z" fill="#4f81bd" stroke="none"/>
<path d="M227 190h24" stroke="#c0504d" stroke-width="1.4"/>
<path d="M309 190h24" stroke="#9bbb59" stroke-width="3"/><path d="M321.0 184.5L326.5 194.5L315.5 194.5Z" fill="#9bbb59" stroke="none"/>
<path d="M147 215.5h24" stroke="#000" stroke-width="3.8" stroke-linecap="round"/><path d="M159.0 210.3L164.2 215.5L159.0 220.7L153.8 215.5Z" fill="#000" stroke="none"/>
<path d="M227.5 215.5h24" stroke="#f00" stroke-width="5.2" stroke-linecap="round"/><circle cx="239.5" cy="215.5" r="5.6" fill="#f00"/>
<g font-family="Liberation Sans, Noto Sans CJK SC, sans-serif" font-size="12" fill="#222">
<text x="173" y="194.3">2019年</text>
<text x="254" y="194.3">2020年</text>
<text x="335" y="194.3">2021年</text>
<text x="173" y="219.8">2022年</text>
<text x="254" y="219.8">2023年</text>
<text x="61" y="178.1" text-anchor="end" font-size="11.6">300</text>
<text x="61" y="237.4" text-anchor="end" font-size="11.6">250</text>
<text x="61" y="296.7" text-anchor="end" font-size="11.6">200</text>
<text x="61" y="356.0" text-anchor="end" font-size="11.6">150</text>
<text x="102.2" y="372" text-anchor="middle" font-size="12.5">1月</text>
<text x="158.0" y="372" text-anchor="middle" font-size="12.5">2月</text>
<text x="213.7" y="372" text-anchor="middle" font-size="12.5">3月</text>
<text x="269.4" y="372" text-anchor="middle" font-size="12.5">4月</text>
<text x="325.1" y="372" text-anchor="middle" font-size="12.5">5月</text>
<text x="380.8" y="372" text-anchor="middle" font-size="12.5">6月</text>
<text x="436.5" y="372" text-anchor="middle" font-size="12.5">7月</text>
<text x="492.1" y="372" text-anchor="middle" font-size="12.5">8月</text>
<text x="547.9" y="372" text-anchor="middle" font-size="12.5">9月</text>
<text x="603.5" y="372" text-anchor="middle" font-size="12.5">10月</text>
<text x="659.2" y="372" text-anchor="middle" font-size="12.5">11月</text>
<text x="715.0" y="372" text-anchor="middle" font-size="12.5">12月</text>
<text x="20" y="158.6" font-weight="500" font-size="12.3" fill="#000" stroke="#000" stroke-width="0.3">万台</text>
<text x="364.7" y="163.2" font-weight="500" font-size="20" letter-spacing="1.45" fill="#000" stroke="#000" stroke-width="0.4" text-anchor="middle">汽车历年月度销量走势</text>
</g>
</svg>
<svg width="744" height="445" viewBox="0 0 744 445" style="position:absolute;left:0;top:0">
<g fill="#fffef0" fill-opacity="0.93">
<ellipse cx="640" cy="405.5" rx="9.2" ry="7.8"/><path d="M634.5 410.5l-1.8 4.5 5.2-2.6z"/>
<ellipse cx="651.5" cy="413.5" rx="8.6" ry="7.2" stroke="#ffff00" stroke-width="1.2"/><path d="M656.5 418.5l1.6 3.6-4.8-2z"/>
</g>
<g fill="#f0e000"><circle cx="636.8" cy="403" r="1.1"/><circle cx="643.6" cy="403" r="1.1"/><circle cx="648.6" cy="411.6" r="1"/><circle cx="654.6" cy="411.6" r="1"/></g>
<text transform="translate(666.3,420) scale(1,1.14)" x="0" y="0" font-family="Liberation Sans, Noto Sans CJK SC, sans-serif" font-weight="500" font-size="17.4" fill="#fff" fill-opacity="0.92" stroke="#77774a" stroke-opacity="0.3" stroke-width="0.3">崔东树</text>
<text x="692" y="439" font-family="Liberation Sans, Noto Sans CJK SC, sans-serif" font-size="11.8" fill="#fff" stroke="#fff" stroke-width="0.25">汽车之家</text>
</svg>
</body></html>
